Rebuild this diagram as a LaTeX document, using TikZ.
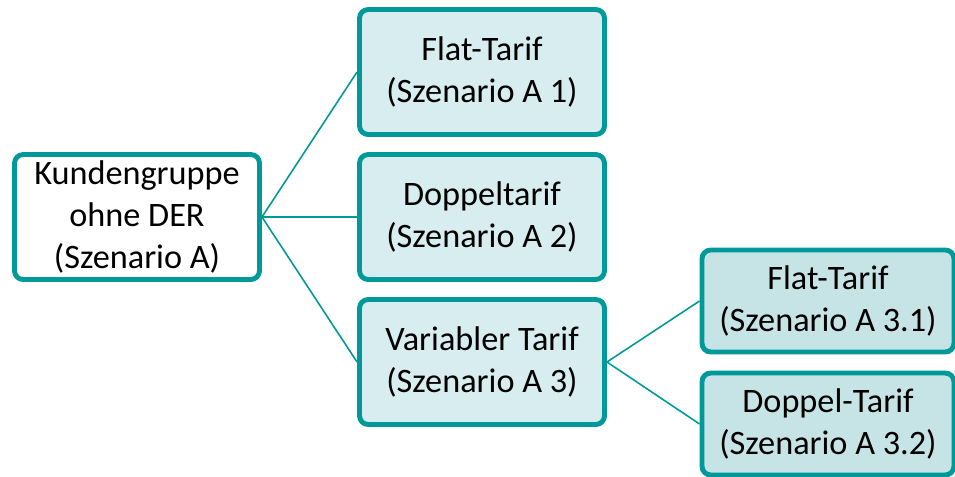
\documentclass[tikz,border=0pt]{standalone}
\usepackage{fontspec}
\setmainfont{Carlito}
\usetikzlibrary{positioning}
\definecolor{tealline}{RGB}{0,153,153}
\definecolor{levelone}{RGB}{216,237,239}
\definecolor{leveltwo}{RGB}{198,228,230}
\tikzset{
  rootbox/.style={
    rectangle, draw=tealline, fill=white, line width=2.8pt, rounded corners=5pt,
    minimum width=4.9cm, minimum height=2.5cm,
    align=center, font=\fontsize{19.5}{23.8}\selectfont, inner sep=2pt,
  },
  tarif/.style={rootbox, fill=levelone},
  subtarif/.style={rootbox, fill=leveltwo, minimum width=5.04cm, minimum height=2.04cm},
  branch/.style={line width=0.9pt, draw=tealline},
}

\begin{document}
\begin{tikzpicture}

  \useasboundingbox (0,0) rectangle (19.1,-9.52);

  \node[rootbox] (root) at (2.74,-4.34) {Kundengruppe\\ohne DER\\(Szenario A)};

  \node[tarif] (a1) at (9.64,-1.44) {Flat-Tarif\\(Szenario A 1)};
  \node[tarif] (a2) at (9.64,-4.34) {Doppeltarif\\(Szenario A 2)};
  \node[tarif] (a3) at (9.64,-7.24) {Variabler Tarif\\(Szenario A 3)};

  \node[subtarif] (a31) at (16.56,-6.02) {Flat-Tarif\\(Szenario A 3.1)};
  \node[subtarif] (a32) at (16.56,-8.48) {Doppel-Tarif\\(Szenario A 3.2)};

  \draw[branch] (root.east) -- (a1.west);
  \draw[branch] (root.east) -- (a2.west);
  \draw[branch] (root.east) -- (a3.west);
  \draw[branch] (a3.east) -- (a31.west);
  \draw[branch] (a3.east) -- (a32.west);

\end{tikzpicture}
\end{document}
